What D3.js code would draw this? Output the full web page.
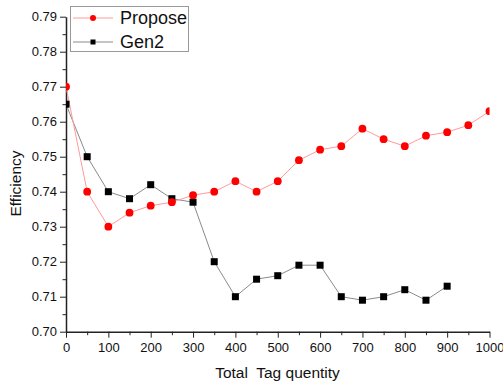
<!DOCTYPE html>
<html>
<head>
<meta charset="utf-8">
<script src="https://cdn.jsdelivr.net/npm/d3@7"></script>
<style>
  body { margin: 0; background: #fff; }
  svg { display: block; font-family: Arial, "Liberation Sans", sans-serif; }
</style>
</head>
<body>
<svg id="chart"></svg>
<script>
const width = 503, height = 382;

// chart data
const tagCounts = [0, 50, 100, 150, 200, 250, 300, 350, 400, 450, 500,
  550, 600, 650, 700, 750, 800, 850, 900, 950, 1000];
const proposeValues = [0.770, 0.740, 0.730, 0.734, 0.736, 0.737, 0.739, 0.740, 0.743, 0.740, 0.743,
  0.749, 0.752, 0.753, 0.758, 0.755, 0.753, 0.756, 0.757, 0.759, 0.763];
const gen2Values = [0.765, 0.750, 0.740, 0.738, 0.742, 0.738, 0.737, 0.720, 0.710, 0.715, 0.716,
  0.719, 0.719, 0.710, 0.709, 0.710, 0.712, 0.709, 0.713];
const xTicks = [0, 100, 200, 300, 400, 500, 600, 700, 800, 900, 1000];
const yTicks = [0.70, 0.71, 0.72, 0.73, 0.74, 0.75, 0.76, 0.77, 0.78, 0.79];

const plotLeft = 66, plotRight = 489.5, plotTop = 16.7, plotBottom = 331.7;

const svg = d3.select('#chart')
  .attr('width', width)
  .attr('height', height);

const x = d3.scaleLinear().domain([0, 1000]).range([plotLeft, plotRight]);
const y = d3.scaleLinear().domain([0.70, 0.79]).range([plotBottom, plotTop]);

svg.append('defs').append('clipPath')
  .attr('id', 'plot-clip')
  .append('rect')
  .attr('x', plotLeft)
  .attr('y', 0)
  .attr('width', plotRight - plotLeft)
  .attr('height', plotBottom);

// minor ticks
const minorX = d3.range(50, 1000, 100);
const minorY = d3.range(0.705, 0.79, 0.01);

svg.append('g')
  .attr('transform', `translate(0,${plotBottom})`)
  .call(d3.axisBottom(x).tickValues(minorX).tickSize(3.5).tickFormat(''))
  .call(g => g.select('.domain').remove());

svg.append('g')
  .attr('transform', `translate(${plotLeft},0)`)
  .call(d3.axisLeft(y).tickValues(minorY).tickSize(3.5).tickFormat(''))
  .call(g => g.select('.domain').remove());

svg.append('g')
  .attr('transform', `translate(0,${plotBottom})`)
  .call(d3.axisBottom(x).tickValues(xTicks).tickSize(6).tickSizeOuter(0).tickPadding(5)
    .tickFormat(d3.format('d')));

svg.append('g')
  .attr('transform', `translate(${plotLeft},0)`)
  .call(d3.axisLeft(y).tickValues(yTicks).tickSize(6).tickSizeOuter(0).tickPadding(3)
    .tickFormat(d3.format('.2f')));

svg.selectAll('.tick line').attr('stroke', '#222').attr('stroke-width', 1);
svg.selectAll('.domain').attr('stroke', '#222').attr('stroke-width', 1.5);
svg.selectAll('.tick text').attr('font-size', 13).attr('fill', '#111')
  .attr('font-family', 'Arial, "Liberation Sans", sans-serif');

// series
const plot = svg.append('g').attr('clip-path', 'url(#plot-clip)');

const line = d3.line()
  .x((d, i) => x(tagCounts[i]))
  .y(d => y(d));

plot.append('path')
  .datum(gen2Values)
  .attr('fill', 'none')
  .attr('stroke', '#8a8a8a')
  .attr('stroke-width', 1)
  .attr('d', line);

plot.append('path')
  .datum(proposeValues)
  .attr('fill', 'none')
  .attr('stroke', '#ff9a9a')
  .attr('stroke-width', 1)
  .attr('d', line);

plot.selectAll('.gen2')
  .data(gen2Values)
  .enter()
  .append('rect')
  .attr('class', 'gen2')
  .attr('x', (d, i) => x(tagCounts[i]) - 3.5)
  .attr('y', d => y(d) - 3.5)
  .attr('width', 7)
  .attr('height', 7)
  .attr('fill', '#000');

plot.selectAll('.propose')
  .data(proposeValues)
  .enter()
  .append('circle')
  .attr('class', 'propose')
  .attr('cx', (d, i) => x(tagCounts[i]))
  .attr('cy', d => y(d))
  .attr('r', 3.9)
  .attr('fill', '#ff0000');

// axis titles
svg.append('text')
  .attr('transform', 'translate(21,183.5) rotate(-90)')
  .attr('text-anchor', 'middle')
  .attr('font-size', 15.5)
  .attr('fill', '#111')
  .text('Efficiency');

svg.append('text')
  .attr('x', 277.5)
  .attr('y', 378)
  .attr('text-anchor', 'middle')
  .attr('font-size', 15.5)
  .attr('fill', '#111')
  .style('white-space', 'pre')
  .text('Total  Tag quentity');

// legend
const legend = svg.append('g');
legend.append('rect')
  .attr('x', 70.5)
  .attr('y', 6.5)
  .attr('width', 118)
  .attr('height', 45)
  .attr('fill', '#fff')
  .attr('stroke', '#999')
  .attr('stroke-width', 1);

const legendItems = [
  { name: 'Propose', color: '#ff9a9a', marker: 'circle', y: 18 },
  { name: 'Gen2', color: '#8a8a8a', marker: 'square', y: 42 }
];

legendItems.forEach(item => {
  legend.append('line')
    .attr('x1', 73).attr('x2', 113)
    .attr('y1', item.y).attr('y2', item.y)
    .attr('stroke', item.color)
    .attr('stroke-width', 1);
  if (item.marker === 'circle') {
    legend.append('circle')
      .attr('cx', 93).attr('cy', item.y).attr('r', 3)
      .attr('fill', '#ff0000');
  } else {
    legend.append('rect')
      .attr('x', 90.5).attr('y', item.y - 2.5)
      .attr('width', 5).attr('height', 5)
      .attr('fill', '#000');
  }
  legend.append('text')
    .attr('x', 120)
    .attr('y', item.y + 6)
    .attr('font-size', 18)
    .attr('fill', '#111')
    .text(item.name);
});
</script>
</body>
</html>
